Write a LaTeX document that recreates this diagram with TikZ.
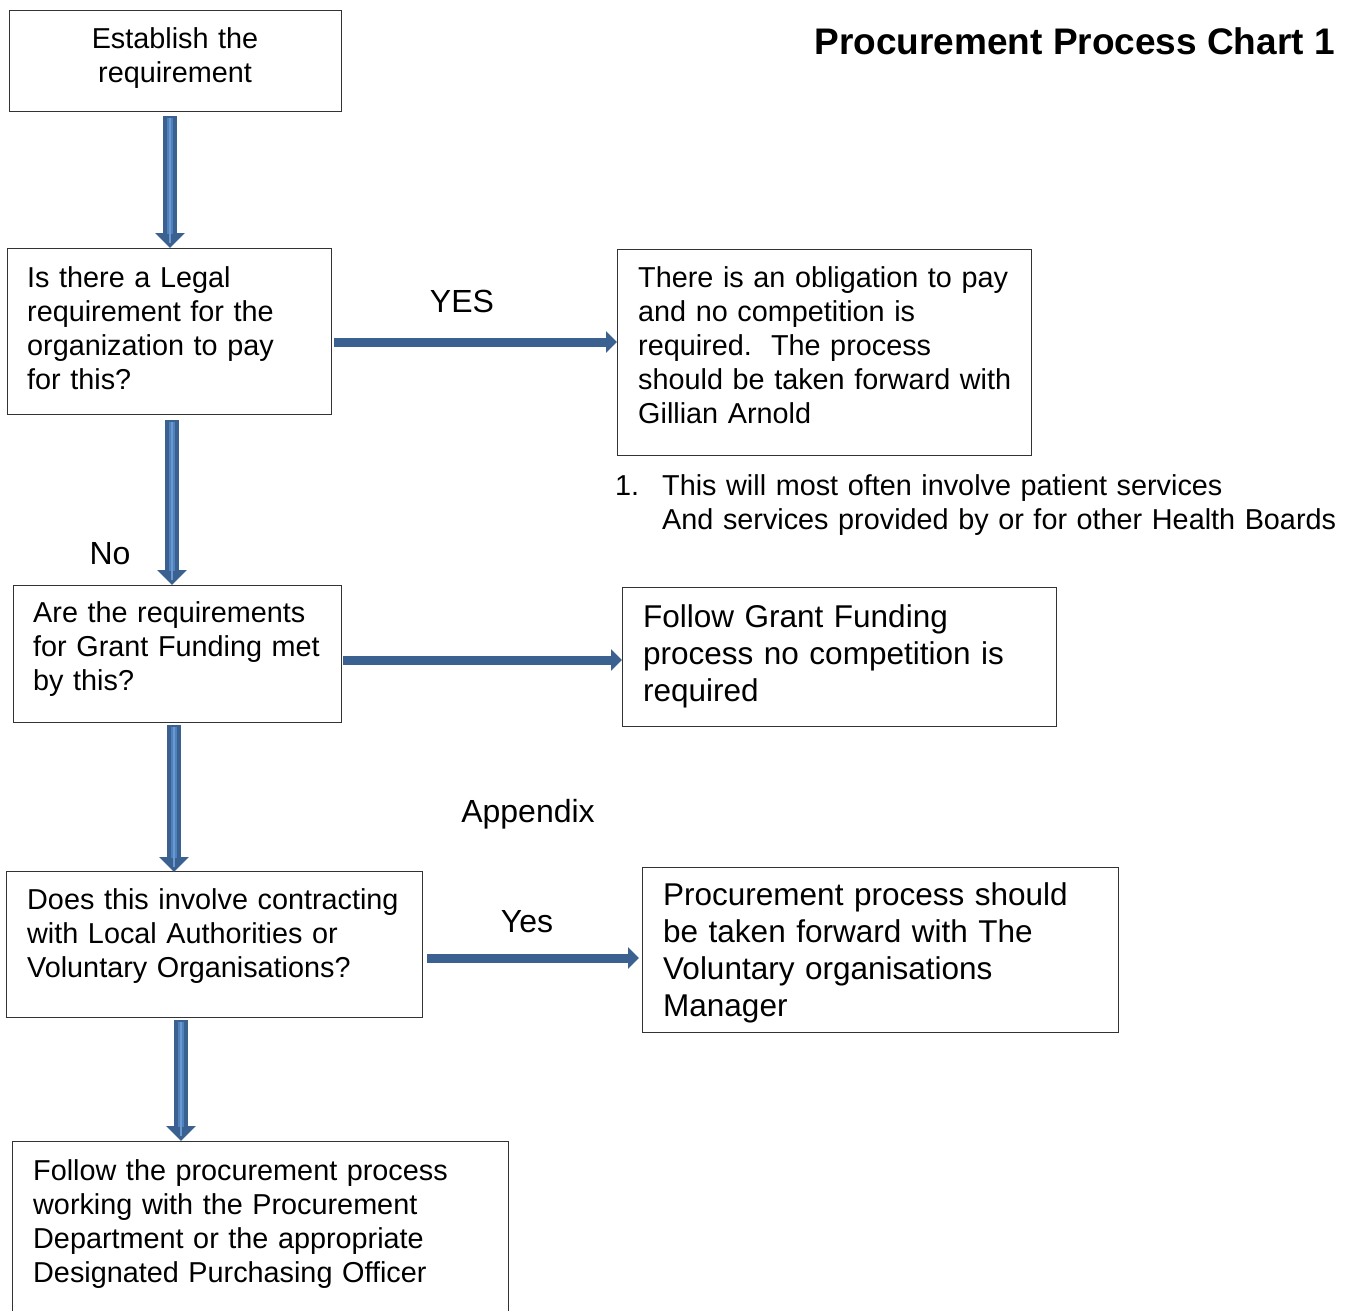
\documentclass[tikz,border=0pt]{standalone}
\usepackage{fontspec}
\setmainfont{Liberation Sans}
\usetikzlibrary{arrows.meta,calc}
\definecolor{arrdark}{HTML}{3B6190}
\definecolor{arrlight}{HTML}{4F81BD}
\definecolor{arrcore}{HTML}{6A98D0}
\begin{document}
\begin{tikzpicture}[x=1pt,y=-1pt,
  box/.style={draw=black!80, line width=1.3pt, anchor=north west, inner sep=0pt},
  txt/.style={anchor=base west, inner sep=0pt, align=left, text width=#1, font=\fontsize{28.8}{34}\selectfont},
  bigtxt/.style={anchor=base west, inner sep=0pt, align=left, text width=#1, font=\fontsize{31.5}{37}\selectfont},
  lbl/.style={anchor=base, inner sep=0pt, font=\fontsize{32}{37}\selectfont},
  varrow/.style={draw=arrdark, line width=14pt, -{Triangle[width=29pt,length=15pt]}},
  vinner/.style={draw=arrlight, line width=6pt, shorten >=14pt, shorten <=2pt},
  vcore/.style={draw=arrcore, line width=1.6pt, shorten >=5pt, shorten <=2pt},
  harrow/.style={draw=arrdark, line width=9pt, -{Triangle[width=21pt,length=11pt]}}
]
\clip (0,0) rectangle (1346,1310);
\fill[white] (0,0) rectangle (1346,1310);

% boxes
\node[box, minimum width=332pt, minimum height=101pt] (b1) at (9,10) {};
\node[box, minimum width=324pt, minimum height=166pt] (b2) at (7,248) {};
\node[box, minimum width=414pt, minimum height=206pt] (b3) at (617,249) {};
\node[box, minimum width=328pt, minimum height=137pt] (b4) at (13,585) {};
\node[box, minimum width=434pt, minimum height=139pt] (b5) at (622,587) {};
\node[box, minimum width=416pt, minimum height=146pt] (b6) at (6,871) {};
\node[box, minimum width=476pt, minimum height=165pt] (b7) at (642,867) {};
\node[box, minimum width=496pt, minimum height=200pt] (b8) at (12,1141) {};

% texts
\node[txt=320pt, anchor=base, align=center] (t1) at (175,48) {Establish the\\requirement};
\node[txt=300pt] (t2) at (27,287) {Is there a Legal\\requirement for the\\organization to pay\\for this?};
\node[txt=390pt] (t3) at (638,287) {There is an obligation to pay\\and no competition is\\required.\ \ The process\\should be taken forward with\\Gillian Arnold};
\node[txt=730pt] (fn) at (615,495) {\makebox[47pt][l]{1.}This will most often involve patient services\\\hspace*{47pt}And services provided by or for other Health Boards};
\node[txt=300pt] (t4) at (33,622) {Are the requirements\\for Grant Funding met\\by this?};
\node[bigtxt=410pt] (t5) at (643,627) {Follow Grant Funding\\process no competition is\\required};
\node[txt=390pt] (t6) at (27,909) {Does this involve contracting\\with Local Authorities or\\Voluntary Organisations?};
\node[bigtxt=450pt] (t7) at (663,905) {Procurement process should\\be taken forward with The\\Voluntary organisations\\Manager};
\node[txt=470pt] (t8) at (33,1180) {Follow the procurement process\\working with the Procurement\\Department or the appropriate\\Designated Purchasing Officer};

% title and labels
\node[anchor=base east, inner sep=0pt, font=\fontsize{37}{44}\selectfont\bfseries] (title) at (1335,54) {Procurement Process Chart 1};
\node[lbl] (lyes) at (462,312) {YES};
\node[lbl] (lno) at (110,564) {No};
\node[lbl] (lapp) at (528,822) {Appendix};
\node[lbl] (lyes2) at (527,932) {Yes};

% arrow columns / rows
\coordinate (v1) at (170,0);
\coordinate (v2) at (172,0);
\coordinate (v3) at (174,0);
\coordinate (v4) at (181,0);
\coordinate (h1) at (0,342);
\coordinate (h2) at (0,660);
\coordinate (h3) at (0,958);

\coordinate (a1s) at ($(b1.south -| v1)+(0,4)$);
\coordinate (a1e) at (b2.north -| v1);
\coordinate (a2s) at ($(b2.south -| v2)+(0,5)$);
\coordinate (a2e) at (b4.north -| v2);
\coordinate (a3s) at ($(b4.south -| v3)+(0,2)$);
\coordinate (a3e) at ($(b6.north -| v3)+(0,1)$);
\coordinate (a4s) at ($(b6.south -| v4)+(0,2)$);
\coordinate (a4e) at (b8.north -| v4);

\foreach \s/\e in {a1s/a1e,a2s/a2e,a3s/a3e,a4s/a4e}{
  \draw[varrow] (\s) -- (\e);
  \draw[vinner] (\s) -- (\e);
  \draw[vcore] (\s) -- (\e);
}

\draw[harrow] ($(b2.east |- h1)+(2,0)$) -- (b3.west |- h1);
\draw[harrow] ($(b4.east |- h2)+(1,0)$) -- (b5.west |- h2);
\draw[harrow] ($(b6.east |- h3)+(4,0)$) -- ($(b7.west |- h3)+(-3,0)$);
\end{tikzpicture}
\end{document}
